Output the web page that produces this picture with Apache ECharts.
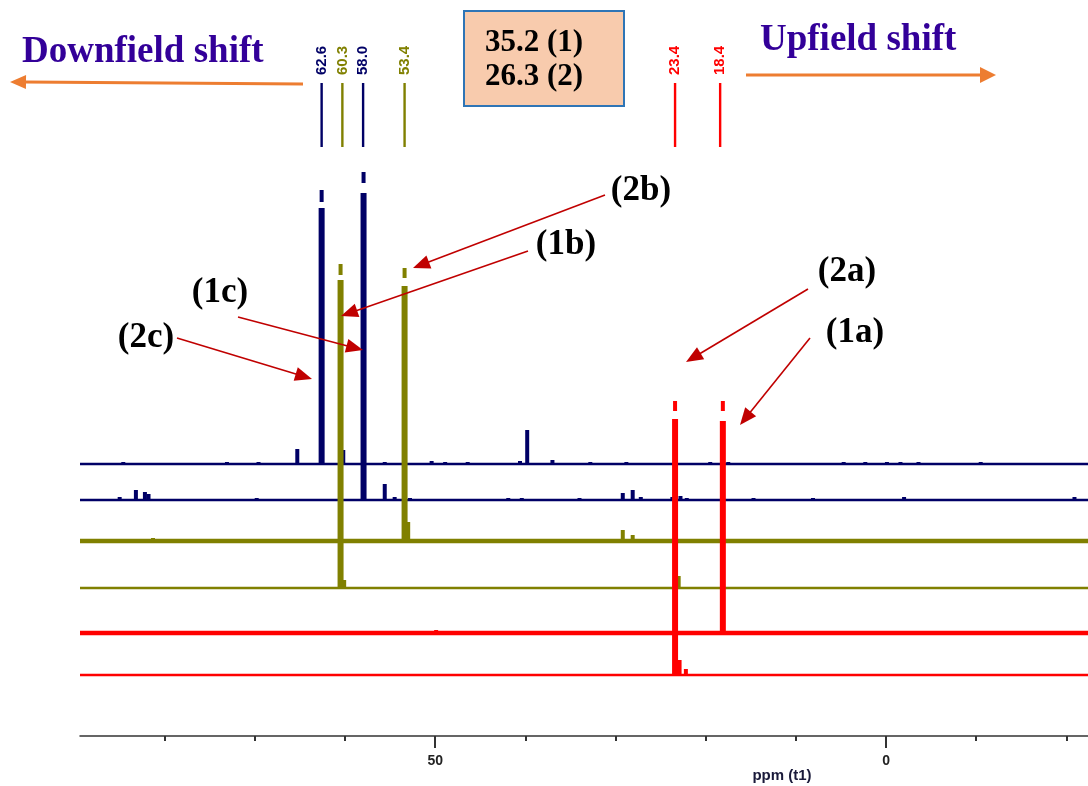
<!DOCTYPE html>
<html><head><meta charset="utf-8">
<script src="https://cdn.jsdelivr.net/npm/echarts@6/dist/echarts.min.js"></script>
<style>html,body{margin:0;padding:0;background:#fff}#c{width:1088px;height:786px}</style>
</head><body><div id="c"></div>
<script>
// ---------- data ----------
const ppmMin = -22.4, ppmMax = 89.4;
const tickValues = [-20, -10, 0, 10, 20, 30, 40, 50, 60, 70, 80];
const labelValues = [0, 50];
const axisTitle = 'ppm (t1)';

// spectra, top to bottom; baseline offsets in intensity units
const spectrumNames = ['(2c)', '(1c)', '(2b)', '(1b)', '(2a)', '(1a)'];
const spectrumOffsets = [272, 236, 195, 148, 103, 61];

// peaks: [ppm, height]
const peaks2c = [[84.6,2],[73.1,2],[69.6,2],[65.3,15],[62.6,256],[60.2,14],[55.6,2],[50.4,3],[48.9,2],[46.4,2],
  [40.6,3],[39.8,34],[37.0,4],[32.8,2],[28.8,2],[19.5,2],[17.5,2],[4.7,2],[2.3,2],[-0.1,2],[-1.6,2],[-3.6,2],[-10.5,2]];
const peaks1c = [[85.0,3],[83.2,10],[82.2,8],[81.8,6],[69.8,2],[60.5,10],[57.95,307],[55.6,16],[54.5,3],[52.8,2],
  [41.9,2],[40.4,2],[34.0,2],[29.2,7],[28.1,10],[27.2,3],[23.7,3],[22.8,4],[22.1,2],[14.7,2],[8.1,2],[-2.0,3],[-20.9,3]];
const peaks2b = [[81.3,3],[80.5,2],[53.4,255],[53.0,19],[43.7,2],[38.6,2],[29.2,11],[28.1,6],[-6.6,2]];
const peaks1b = [[60.5,308],[60.1,8],[23.0,12]];
const peaks2a = [[84.2,2],[72.7,2],[61.6,2],[49.9,3],[18.1,212],[-10.5,2]];
const peaks1a = [[23.4,256],[22.9,15],[22.2,6]];
const spectrumPeaks = [peaks2c, peaks1c, peaks2b, peaks1b, peaks2a, peaks1a];

// clipped-peak break marks: [ppm, from, to] (relative to baseline)
const breaks2c = [[62.6, 262, 274]];
const breaks1c = [[57.95, 317, 328]];
const breaks2b = [[53.4, 263, 273]];
const breaks1b = [[60.5, 313, 324]];
const breaks2a = [[18.1, 222, 232]];
const breaks1a = [[23.4, 264, 274]];
const spectrumBreaks = [breaks2c, breaks1c, breaks2b, breaks1b, breaks2a, breaks1a];

// chemical shift labels at top
const shiftValues = [62.6, 60.3, 58.0, 53.4, 23.4, 18.4];
const shiftLabels = ['62.6', '60.3', '58.0', '53.4', '23.4', '18.4'];

const boxLines = ['35.2 (1)', '26.3 (2)'];

// ---------- styles ----------
const NAVY = '#000066', OLIVE = '#808000', RED = '#ff0000';
const spectrumColors = [NAVY, NAVY, OLIVE, OLIVE, RED, RED];
const spectrumWidths = [2.5, 2.5, 4.5, 2.5, 4.5, 2.5];
const shiftColors = [NAVY, OLIVE, NAVY, OLIVE, RED, RED];

const chart = echarts.init(document.getElementById('c'), null, {renderer: 'canvas'});

const series = [];
// baselines
spectrumOffsets.forEach((off, i) => {
  series.push({
    type: 'line', name: spectrumNames[i] + ' base', xAxisIndex: 0, yAxisIndex: 0,
    data: [[ppmMax, off], [ppmMin, off]],
    symbol: 'none', silent: true, animation: false, z: 2,
    lineStyle: {color: spectrumColors[i], width: spectrumWidths[i]}
  });
});
// peaks (drawn after baselines; red on top)
spectrumPeaks.forEach((pk, i) => {
  const off = spectrumOffsets[i];
  const color = spectrumColors[i];
  series.push({
    type: 'custom', name: spectrumNames[i], xAxisIndex: 0, yAxisIndex: 0,
    silent: true, animation: false, z: 3 + i,
    data: pk.map(p => [p[0], off, off + p[1]]),
    renderItem: function (params, api) {
      const x = api.value(0), y0 = api.value(1), y1 = api.value(2);
      const p0 = api.coord([x, y0]), p1 = api.coord([x, y1]);
      const w = (y1 - y0) > 60 ? 6 : 4;
      return {type: 'rect', shape: {x: p0[0] - w / 2, y: p1[1], width: w, height: p0[1] - p1[1]},
        style: {fill: color}};
    }
  });
  series.push({
    type: 'custom', name: spectrumNames[i] + ' break', xAxisIndex: 0, yAxisIndex: 0,
    silent: true, animation: false, z: 3 + i,
    data: spectrumBreaks[i].map(b => [b[0], off + b[1], off + b[2]]),
    renderItem: function (params, api) {
      const x = api.value(0);
      const p0 = api.coord([x, api.value(1)]), p1 = api.coord([x, api.value(2)]);
      const w = 4;
      return {type: 'rect', shape: {x: p0[0] - w / 2, y: p1[1], width: w, height: p0[1] - p1[1]},
        style: {fill: color}};
    }
  });
});
// shift labels with stick marks at top
series.push({
  type: 'custom', name: 'shifts', xAxisIndex: 0, yAxisIndex: 0, silent: true, animation: false, z: 20,
  data: shiftValues.map((v, i) => [v, i]),
  renderItem: function (params, api) {
    const i = api.value(1);
    const px = api.coord([api.value(0), 0])[0];
    return {type: 'group', children: [
      {type: 'rect', shape: {x: px - 1.2, y: 83, width: 2.4, height: 64}, style: {fill: shiftColors[i]}},
      {type: 'text', x: px, y: 75, rotation: Math.PI / 2,
        style: {text: shiftLabels[i], fill: shiftColors[i], font: 'bold 15px "Liberation Sans", Arial',
          align: 'left', verticalAlign: 'middle', textAlign: 'left', textVerticalAlign: 'middle'}}
    ]};
  }
});

// ---------- graphic annotations ----------
function arrow(x1, y1, x2, y2, color, lw, hl, hw) {
  const dx = x2 - x1, dy = y2 - y1, L = Math.hypot(dx, dy);
  const ux = dx / L, uy = dy / L, nx = -uy, ny = ux;
  const bx = x2 - ux * hl, by = y2 - uy * hl;
  return [
    {type: 'line', shape: {x1: x1, y1: y1, x2: bx + ux * 1, y2: by + uy * 1}, style: {stroke: color, lineWidth: lw}, z: 30},
    {type: 'polygon', shape: {points: [[x2, y2], [bx + nx * hw, by + ny * hw], [bx - nx * hw, by - ny * hw]]},
      style: {fill: color}, z: 30}
  ];
}
const ORANGE = '#ed7d31', DARKRED = '#c00000', INDIGO = '#330099';
const serifBold = (s) => 'bold ' + s + 'px "Liberation Serif", "Times New Roman", serif';
const graphics = [];
graphics.push({type: 'text', x: 22, y: 52, z: 30,
  style: {text: 'Downfield shift', font: serifBold(37), fill: INDIGO, align: 'left', verticalAlign: 'middle'}});
graphics.push({type: 'text', x: 760, y: 40, z: 30,
  style: {text: 'Upfield shift', font: serifBold(37), fill: INDIGO, align: 'left', verticalAlign: 'middle'}});
graphics.push(...arrow(303, 84, 10, 82, ORANGE, 3, 16, 7));
graphics.push(...arrow(746, 75, 996, 75, ORANGE, 3, 16, 8));
graphics.push({type: 'rect', shape: {x: 464, y: 11, width: 160, height: 95}, z: 30,
  style: {fill: '#f8cbad', stroke: '#2e75b6', lineWidth: 2}});
graphics.push({type: 'text', x: 485, y: 43, z: 31,
  style: {text: boxLines[0], font: serifBold(31), fill: '#000', align: 'left', verticalAlign: 'middle'}});
graphics.push({type: 'text', x: 485, y: 77, z: 31,
  style: {text: boxLines[1], font: serifBold(31), fill: '#000', align: 'left', verticalAlign: 'middle'}});
// peak annotations
const ann = [
  {t: '(2b)', x: 641, y: 191, a: [605, 195, 413, 268]},
  {t: '(1b)', x: 566, y: 245, a: [528, 251, 341, 316]},
  {t: '(2a)', x: 847, y: 272, a: [808, 289, 686, 362]},
  {t: '(1c)', x: 220, y: 293, a: [238, 317, 363, 350]},
  {t: '(1a)', x: 855, y: 333, a: [810, 338, 740, 425]},
  {t: '(2c)', x: 146, y: 338, a: [177, 338, 312, 379]}
];
ann.forEach(o => {
  graphics.push({type: 'text', x: o.x, y: o.y, z: 31,
    style: {text: o.t, font: serifBold(35), fill: '#000', align: 'center', verticalAlign: 'middle'}});
  graphics.push(...arrow(o.a[0], o.a[1], o.a[2], o.a[3], DARKRED, 1.6, 17, 7));
});
graphics.push({type: 'text', x: 782, y: 776, z: 31,
  style: {text: axisTitle, font: 'bold 15px "Liberation Sans", Arial', fill: '#1a1a3a', align: 'center', verticalAlign: 'middle'}});

const option = {
  backgroundColor: '#ffffff',
  animation: false,
  grid: {left: 80, right: 0, top: 0, bottom: 50, containLabel: false},
  xAxis: [
    {type: 'value', inverse: true, min: ppmMin, max: ppmMax, position: 'bottom',
      axisLine: {show: true, onZero: false, lineStyle: {color: '#333', width: 1.5}},
      axisTick: {show: true, customValues: tickValues, length: 5, lineStyle: {color: '#333', width: 2}},
      axisLabel: {show: false}, splitLine: {show: false}},
    {type: 'value', inverse: true, min: ppmMin, max: ppmMax, position: 'bottom',
      axisLine: {show: false, onZero: false},
      axisTick: {show: true, customValues: labelValues, length: 12, lineStyle: {color: '#333', width: 2}},
      axisLabel: {show: true, customValues: labelValues, margin: 18, color: '#222',
        fontWeight: 'bold', fontSize: 14, fontFamily: '"Liberation Sans", Arial'},
      splitLine: {show: false}}
  ],
  yAxis: {type: 'value', min: 0, max: 736, show: false},
  series: series,
  graphic: graphics
};
chart.setOption(option);
</script>
</body></html>
